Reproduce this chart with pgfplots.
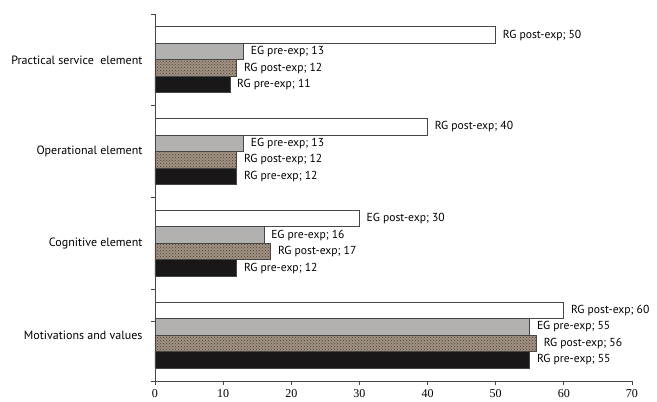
\documentclass[border=0pt]{standalone}
\usepackage{fontspec}
\setmainfont{PT Sans}
\newfontfamily\tickfont{Liberation Serif}
\usepackage{pgfplots}
\pgfplotsset{compat=1.18}
\usetikzlibrary{patterns}
\definecolor{barline}{RGB}{70,70,70}
\definecolor{graybar}{RGB}{178,177,176}
\definecolor{blackbar}{RGB}{25,23,23}
\definecolor{texbar}{RGB}{160,145,131}
\definecolor{texdot}{RGB}{75,63,54}
\begin{document}
\begin{tikzpicture}
\begin{axis}[
  at={(0,0)}, anchor=south west,
  scale only axis, width=477pt, height=367pt,
  xbar, bar width=16.5pt,
  xmin=0, xmax=70, ymin=-0.5, ymax=3.5,
  /pgf/number format/assume math mode=true,
  axis x line*=bottom, axis y line*=left,
  axis line style={line width=0.8pt, barline},
  xtick={0,10,...,70},
  xtick align=outside,
  major tick length=4pt,
  x tick style={line width=0.8pt, barline},
  xticklabel style={font=\tickfont\fontsize{12}{14}\selectfont, yshift=-1pt},
  ytick={0,1,2,3},
  yticklabels={Motivations and values, Cognitive element, Operational element, Practical service\ \ element},
  yticklabel style={font=\fontsize{12}{14}\selectfont, xshift=-5pt},
  y tick style={draw=none},
  extra y ticks={-0.5,0.15,0.5,1.5,2.5,3.5},
  extra y tick labels={},
  extra y tick style={y tick style={draw=barline, line width=0.8pt}, tick align=outside, major tick length=3.5pt},
  point meta=x,
  every node near coord/.append style={anchor=west, font=\fontsize{11.6}{13}\selectfont, xshift=3.5pt, text=black},
  clip=false,
]
\addplot[bar shift=-24.75pt, fill=blackbar, draw=barline, line width=0.8pt,
  nodes near coords={RG pre-exp; \pgfmathprintnumber{\pgfplotspointmeta}}]
  coordinates {(55,0) (12,1) (12,2) (11,3)};
\addplot[bar shift=-8.25pt, fill=texbar, draw=barline, line width=0.8pt,
  postaction={pattern=crosshatch dots, pattern color=texdot},
  nodes near coords={RG post-exp; \pgfmathprintnumber{\pgfplotspointmeta}}]
  coordinates {(56,0) (17,1) (12,2) (12,3)};
\addplot[bar shift=8.25pt, fill=graybar, draw=barline, line width=0.8pt,
  nodes near coords={EG pre-exp; \pgfmathprintnumber{\pgfplotspointmeta}}]
  coordinates {(55,0) (16,1) (13,2) (13,3)};
\addplot[bar shift=24.75pt, fill=white, draw=barline, line width=0.8pt,
  point meta=explicit symbolic,
  nodes near coords={\pgfplotspointmeta\ post-exp; \pgfmathprintnumber{\pgfkeysvalueof{/data point/x}}}]
  coordinates {(60,0) [RG] (30,1) [EG] (40,2) [RG] (50,3) [RG]};
\end{axis}
\pgfresetboundingbox
\path[use as bounding box] (-155pt,-21pt) rectangle (502pt,381pt);
\end{tikzpicture}
\end{document}
